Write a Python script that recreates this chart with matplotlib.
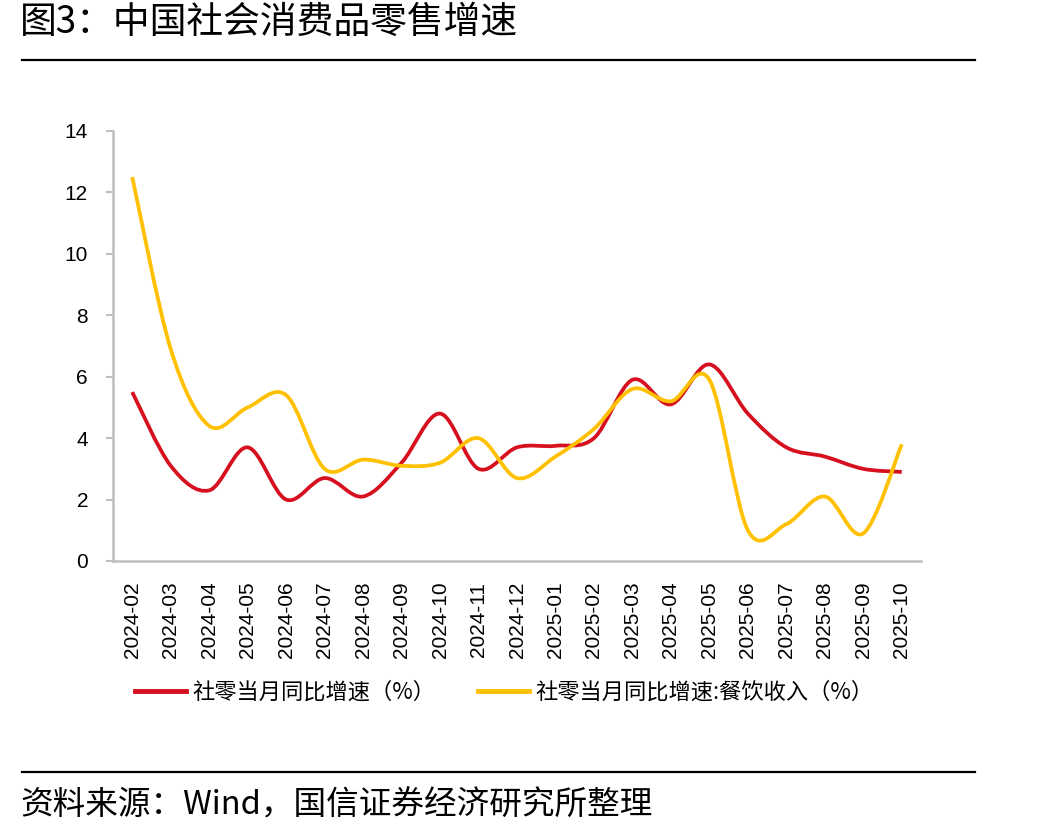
import numpy as np
import matplotlib
matplotlib.use("Agg")
import matplotlib.pyplot as plt
from matplotlib.path import Path
from matplotlib.patches import PathPatch
from matplotlib.lines import Line2D

plt.rcParams['font.family'] = ['Noto Sans CJK SC', 'DejaVu Sans']

months = ['2024-02', '2024-03', '2024-04', '2024-05', '2024-06', '2024-07', '2024-08',
          '2024-09', '2024-10', '2024-11', '2024-12', '2025-01', '2025-02', '2025-03',
          '2025-04', '2025-05', '2025-06', '2025-07', '2025-08', '2025-09', '2025-10']
retail = [5.5, 3.1, 2.3, 3.7, 2.0, 2.7, 2.1, 3.2, 4.8, 3.0, 3.7, 3.75, 4.0, 5.9,
          5.1, 6.4, 4.8, 3.7, 3.4, 3.0, 2.9]
catering = [12.5, 6.9, 4.4, 5.0, 5.4, 3.0, 3.3, 3.1, 3.2, 4.0, 2.7, 3.4, 4.3, 5.6,
            5.2, 5.9, 1.0, 1.2, 2.1, 0.9, 3.8]
names = ['社零当月同比增速（%）', '社零当月同比增速:餐饮收入（%）']
colors = ['#D7101F', '#FFC000']


def smooth_path(x, y):
    # Excel-like smoothed line: cubic bezier through every point
    x = np.asarray(x, float)
    y = np.asarray(y, float)
    n = len(x)
    verts = [(x[0], y[0])]
    codes = [Path.MOVETO]
    for i in range(n - 1):
        i0 = max(i - 1, 0)
        i3 = min(i + 2, n - 1)
        c1 = (x[i] + (x[i + 1] - x[i0]) / 6, y[i] + (y[i + 1] - y[i0]) / 6)
        c2 = (x[i + 1] - (x[i3] - x[i]) / 6, y[i + 1] - (y[i3] - y[i]) / 6)
        verts += [c1, c2, (x[i + 1], y[i + 1])]
        codes += [Path.CURVE4] * 3
    return Path(verts, codes)


fig = plt.figure(figsize=(10.47, 8.4), dpi=100)
ax = fig.add_axes([113 / 1047, 1 - 561 / 840, 808 / 1047, 430 / 840])

xs = np.arange(len(months))
for vals, c in zip([retail, catering], colors):
    ax.add_patch(PathPatch(smooth_path(xs, vals), fill=False, edgecolor=c,
                           lw=2.7, capstyle='butt', joinstyle='round'))

ax.set_xlim(-0.5, len(months) - 0.5)
ax.set_ylim(0, 14)
ax.set_yticks(range(0, 15, 2))
ax.set_xticks(xs)
ax.set_xticklabels(months, rotation=90, fontfamily='Liberation Sans', fontsize=15)
for lab in ax.get_yticklabels():
    lab.set_fontfamily('Liberation Sans')
    lab.set_fontsize(15)

for s in ['top', 'right']:
    ax.spines[s].set_visible(False)
for s in ['left', 'bottom']:
    ax.spines[s].set_color('#BFBFBF')
    ax.spines[s].set_linewidth(1.8)
ax.tick_params(axis='y', length=5, width=1.5, color='#BFBFBF', pad=13)
ax.tick_params(axis='x', length=0, pad=15)

# legend
handles = [Line2D([0], [0], color=c, lw=3.5) for c in colors]
fig.legend(handles, names, loc='center', bbox_to_anchor=(504 / 1047, 1 - 692 / 840),
           ncol=2, frameon=False, fontsize=16, handlelength=2.3, handletextpad=0.3,
           columnspacing=1.9)

# title, rules and source
fig.text(20 / 1047, 1 - 22 / 840, '图3：中国社会消费品零售增速', fontsize=26.5,
         va='center', ha='left')
fig.add_artist(Line2D([22 / 1047, 975 / 1047], [1 - 60 / 840, 1 - 60 / 840],
                      color='black', lw=1.6))
fig.add_artist(Line2D([22 / 1047, 975 / 1047], [1 - 772 / 840, 1 - 772 / 840],
                      color='black', lw=1.6))
fig.text(20 / 1047, 1 - 806 / 840, '资料来源：Wind，国信证券经济研究所整理', fontsize=23.5,
         va='center', ha='left')

fig.savefig('out.png', dpi=100)
